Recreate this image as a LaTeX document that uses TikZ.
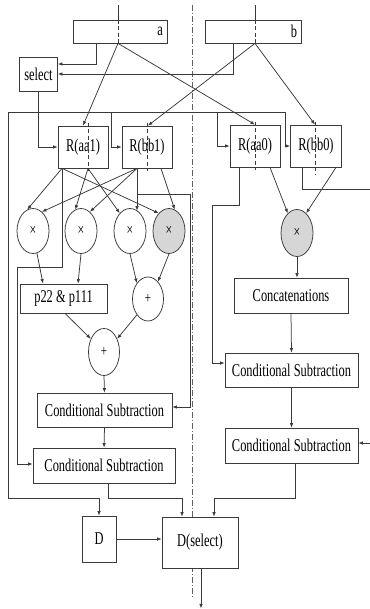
\documentclass[tikz,border=0pt]{standalone}
\usepackage{fontspec}
\setmainfont[FakeStretch=0.69]{Liberation Serif}
\usetikzlibrary{arrows.meta,shapes.geometric}
\definecolor{lc}{HTML}{3A3A3A}
\definecolor{gf}{HTML}{D6D6D6}
\begin{document}
\begin{tikzpicture}[x=1pt,y=-1pt,
  line width=0.75pt,
  txt/.style={font=\fontsize{18}{18}\selectfont},
  box/.style={draw=lc, fill=white, rectangle, inner sep=0pt, txt},
  mul/.style={draw=lc, fill=white, ellipse, inner sep=0pt, minimum width=32pt, minimum height=45pt, font=\fontsize{17}{17}\selectfont},
  addn/.style={draw=lc, fill=white, ellipse, inner sep=0pt, minimum width=31pt, minimum height=45pt, font=\fontsize{16}{16}\selectfont},
  gray/.style={fill=gf},
  arr/.style={draw=lc, -{Latex[length=4.5pt,width=3.5pt]}},
  ln/.style={draw=lc},
  splitline/.style={draw=lc, line width=0.6pt, dash pattern=on 4pt off 2.5pt},
  axis/.style={draw=lc!80, line width=0.6pt, dash pattern=on 6pt off 2pt on 1pt off 2pt}
]
\fill[white] (0,0) rectangle (369,609);
\useasboundingbox (0,0) rectangle (369,609);

% centre axis (behind boxes)
\draw[axis] (192,5) -- (192,598);

% top inputs
\node[box, minimum width=94pt, minimum height=23pt, text width=86pt, inner xsep=4pt, align=right] (a) at (120,31.5) {a};
\node[box, minimum width=96pt, minimum height=23pt, text width=88pt, inner xsep=4pt, align=right] (b) at (253,31.5) {b};
\node[box, minimum width=38pt, minimum height=34pt] (select) at (38.5,74) {select};

% R blocks
\node[box, minimum width=50pt, minimum height=42pt] (Raa1) at (83,147) {R(aa1)};
\node[box, minimum width=50pt, minimum height=42pt] (Rbb1) at (147,147) {R(bb1)};
\node[box, minimum width=50pt, minimum height=42pt] (Raa0) at (255,146) {R(aa0)};
\node[box, minimum width=51pt, minimum height=42pt] (Rbb0) at (316,146) {R(bb0)};

% multipliers
\node[mul] (e1) at (33,231) {×};
\node[mul] (e2) at (81,231) {×};
\node[mul] (e3) at (130,231) {×};
\node[mul, gray] (e4) at (169,231) {×};
\node[mul, gray, minimum height=47pt] (e5) at (297,233) {×};

% left chain
\node[box, minimum width=87pt, minimum height=29pt] (p22) at (63.5,298.5) {p22 \& p111};
\node[addn, minimum height=44pt] (plus1) at (148,299) {+};
\node[addn, minimum height=47pt] (plus2) at (104,352) {+};
\node[box, minimum width=135pt, minimum height=34pt] (CSL1) at (104.5,410) {Conditional Subtraction};
\node[box, minimum width=142pt, minimum height=35pt] (CSL2) at (104,465.5) {Conditional Subtraction};

% right chain
\node[box, minimum width=114pt, minimum height=35pt] (Concat) at (291,295.5) {Concatenations};
\node[box, minimum width=133pt, minimum height=34pt] (CSR1) at (291.5,370) {Conditional Subtraction};
\node[box, minimum width=133pt, minimum height=35pt] (CSR2) at (291.5,445.5) {Conditional Subtraction};

% output
\node[box, minimum width=34pt, minimum height=46pt] (D) at (99,539) {D};
\node[box, minimum width=76pt, minimum height=51pt] (Dsel) at (200,542.5) {D(select)};

% split marks
\draw[ln] ([xshift=-2pt]a.north) -- ++(0,-15);
\draw[splitline] ([xshift=-2pt]a.north) -- ([xshift=-2pt]a.south);
\draw[ln] ([xshift=2pt]b.north) -- ++(0,-15);
\draw[splitline] ([xshift=2pt]b.north) -- ([xshift=2pt]b.south);
\draw[splitline] ([xshift=5pt,yshift=3pt]Raa1.north) -- ([xshift=5pt,yshift=-3pt]Raa1.south);
\draw[splitline] ([yshift=3pt]Rbb1.north) -- ([yshift=-3pt]Rbb1.south);
\draw[splitline] ([yshift=3pt]Raa0.north) -- ([yshift=-3pt]Raa0.south);
\draw[splitline] ([xshift=-1pt,yshift=3pt]Rbb0.north) -- ([xshift=-1pt,yshift=-8pt]Rbb0.south);

% inputs to select
\draw[arr] ([xshift=-24pt]a.south) |- ([yshift=10pt]select.east);
\draw[arr] ([xshift=-20pt]b.south) |- (select.east);

% inputs to R blocks
\draw[arr] ([xshift=-2pt]a.south) -- (Raa1.north);
\draw[arr] ([xshift=-2pt]a.south) -- (Raa0.north);
\draw[arr] ([xshift=2pt]b.south) -- ([xshift=1pt]Rbb1.north);
\draw[arr] ([xshift=2pt]b.south) -- ([xshift=-1pt]Rbb0.north);

% select bus
\coordinate (busL) at (8,112);
\coordinate (busR) at (285,112);
\coordinate (bus1) at (111,112);
\coordinate (bus2) at (217,112);
\draw[ln] (busL) -- (busR);
\draw[arr] (select.south) |- (Raa1.west);
\draw[arr] (bus1) |- (Rbb1.west);
\draw[arr] (bus2) |- (Raa0.west);
\draw[arr] (busR) |- (Rbb0.west);
\draw[arr] (busL) -- ++(0,386) -| (D.north);

% R to multipliers
\draw[arr] ([xshift=-21pt]Raa1.south) -- (e1.105);
\draw[arr] ([xshift=-10pt]Rbb1.south) -- (e1.65);
\draw[arr] ([xshift=5pt]Raa1.south) -- (e2.105);
\draw[arr] ([xshift=-10pt]Rbb1.south) -- (e2.65);
\draw[arr] ([xshift=5pt]Raa1.south) -- (e3.120);
\draw[arr] ([xshift=-10pt]Rbb1.south) -- ([xshift=-10pt]Rbb1.south |- e3.70);
\draw[arr] ([xshift=-21pt]Raa1.south) -- (e4.120);
\draw[arr] ([xshift=14pt]Rbb1.south) -- (e4.75);

% bypass lines left
\draw[arr] ([xshift=-21pt]Raa1.south) -- ++(0,99) -- ++(-45,0) |- ([yshift=1.5pt]CSL2.west);
\draw[arr] ([xshift=-10pt]Rbb1.south) -- ++(0,26) -- ++(53,0) |- ([yshift=3pt]CSL1.east);

% multipliers to adders
\draw[arr] (e1.-80) -- ([xshift=-20.5pt]p22.north);
\draw[arr] (e2.south) -- ([xshift=14.5pt]p22.north);
\draw[arr] (e3.south) -- (plus1.125);
\draw[arr] (e4.south) -- (plus1.60);
\draw[arr] ([xshift=1.5pt]p22.south) -- (plus2.135);
\draw[arr] (plus1.235) -- (plus2.45);
\draw[arr] (plus2.south) -- (CSL1.north);
\draw[arr] (CSL1.south) -- (CSL2.north);

% right side
\draw[arr] ([xshift=-16pt]Raa0.south) -- ++(0,38) -- ++(-27,0) |- ([yshift=7pt]CSR1.west);
\draw[arr] ([xshift=15pt]Raa0.south) -- (e5.115);
\draw[arr] ([xshift=20pt]Rbb0.south) -- (e5.65);
\draw[arr] ([xshift=-14pt]Rbb0.south) -- ++(0,22) -- ++(72,0) |- ([yshift=2.5pt]CSR2.east);
\draw[arr] (e5.south) -- (e5.south |- Concat.north);
\draw[arr] (Concat.south) -- (CSR1.north);
\draw[arr] (CSR1.south) -- (CSR2.north);

% to output
\draw[arr] ([xshift=4pt]CSL2.south) -- ++(0,15) -| ([xshift=-18pt]Dsel.north);
\draw[arr] ([xshift=3.5pt]CSR2.south) -- ++(0,35) -| ([xshift=14pt]Dsel.north);
\draw[arr] (D.east) -- (D.east -| Dsel.west);
\draw[arr] ([xshift=1pt]Dsel.south) -- ++(0,40);
\end{tikzpicture}
\end{document}
